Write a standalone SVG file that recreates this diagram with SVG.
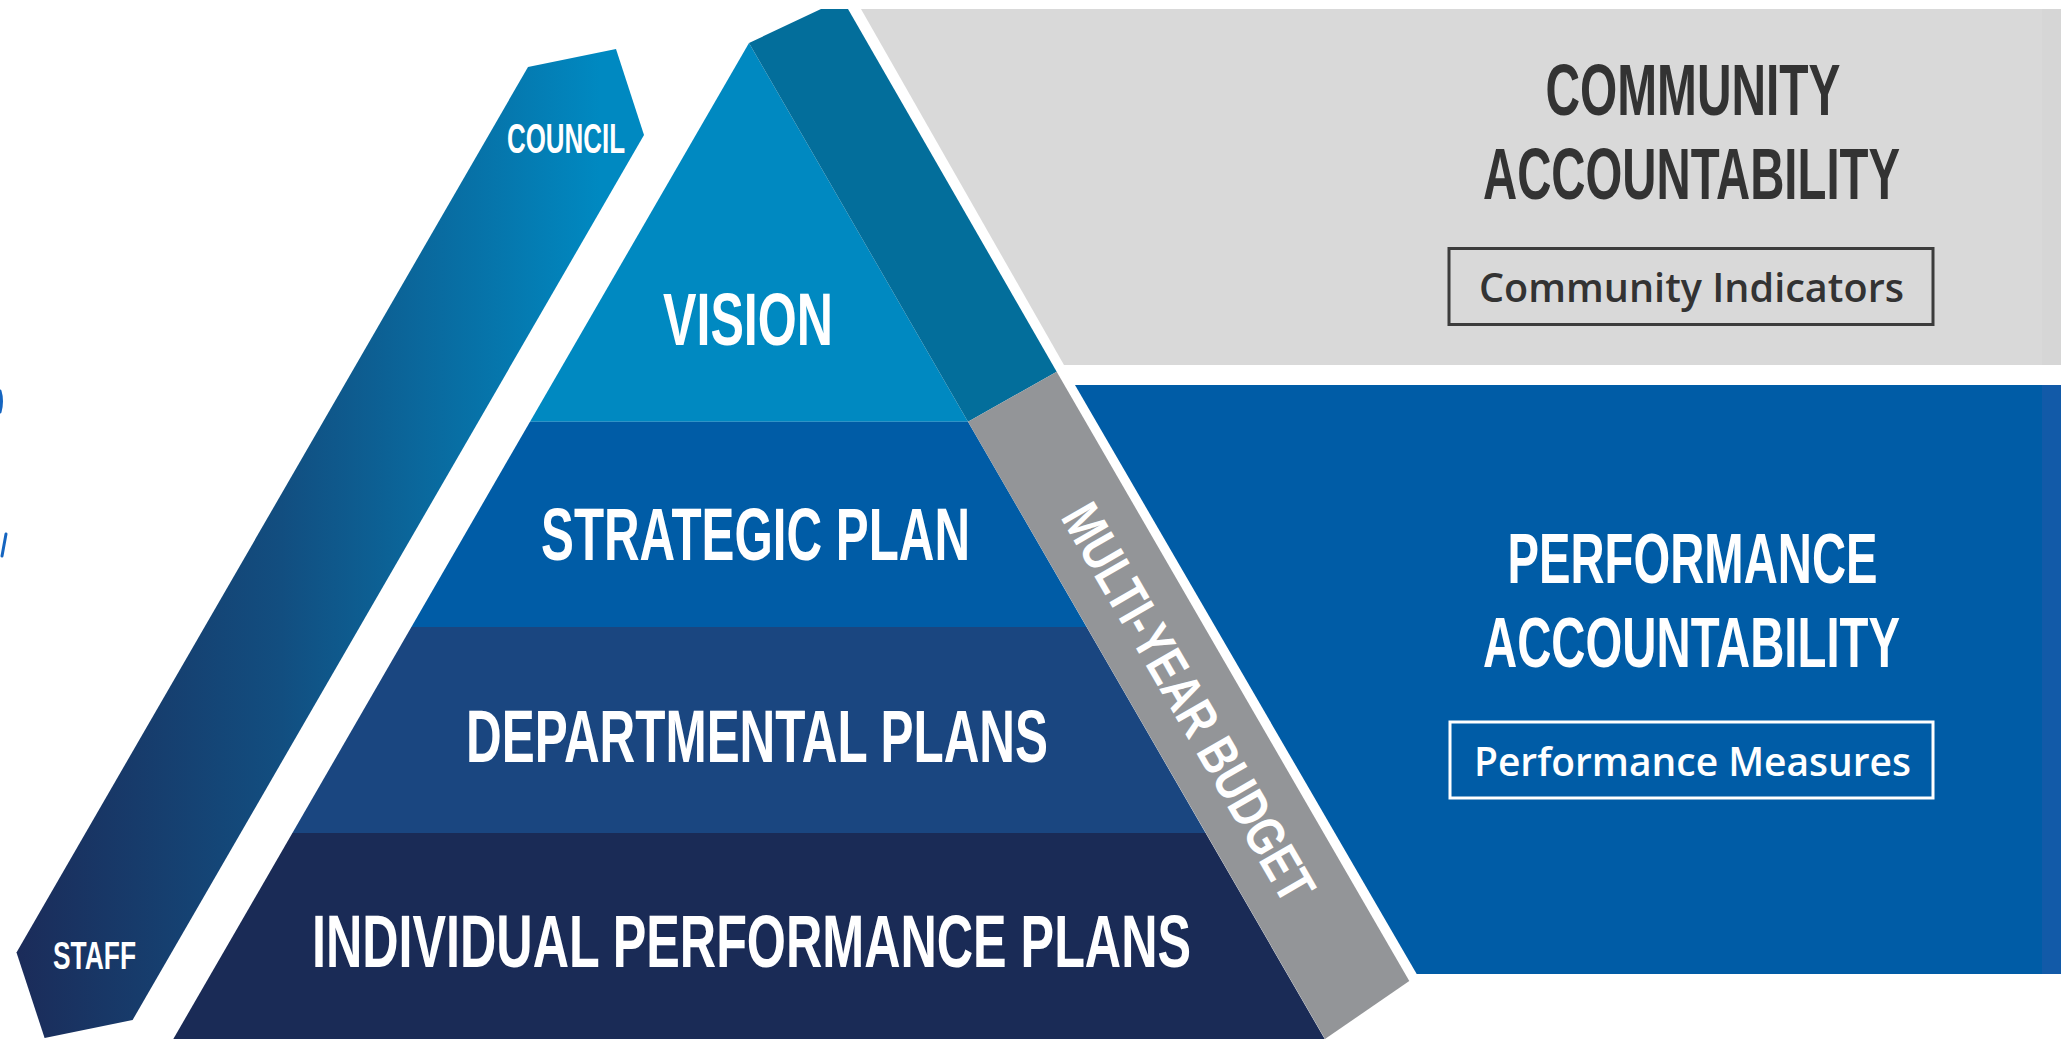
<svg xmlns="http://www.w3.org/2000/svg" width="2061" height="1039" viewBox="0 0 2061 1039">
  <defs>
    <linearGradient id="bandGrad" gradientUnits="userSpaceOnUse" x1="20" y1="0" x2="600" y2="0">
      <stop offset="0" stop-color="#1B2C5A"/>
      <stop offset="0.45" stop-color="#124E80"/>
      <stop offset="1" stop-color="#0089C1"/>
    </linearGradient>
    <style>
      .hd { font-family: "Liberation Sans Narrow", "Liberation Sans", Arial, sans-serif; font-weight: bold; }
      .sub { font-family: "Open Sans", "Noto Sans", "Liberation Sans", sans-serif; font-weight: 600; }
      .w { fill: #FFFFFF; }
      .dk { fill: #333333; }
    </style>
  </defs>
  <rect x="0" y="0" width="2061" height="1039" fill="#FFFFFF"/>

  <!-- edge fragments -->
  <g id="fragments" fill="none" stroke="#1565C0" stroke-width="3" stroke-linecap="round">
    <path d="M0,391 Q3,401 0,412"/>
    <path d="M6,534 L2,556"/>
  </g>

  <!-- Council / Staff band -->
  <g id="council-staff">
    <polygon points="528,67 616,49 644,135 132.6,1020 44.6,1038 16.5,952.5" fill="url(#bandGrad)"/>
    <text class="hd w" x="507" y="153" font-size="42" textLength="118" lengthAdjust="spacingAndGlyphs">COUNCIL</text>
    <text class="hd w" x="53" y="969" font-size="39" textLength="83" lengthAdjust="spacingAndGlyphs">STAFF</text>
  </g>

  <!-- Pyramid layers -->
  <g id="vision">
    <polygon points="749,43 968,421.7 530,421.7" fill="#0089C1"/>
    <text class="hd w" x="663" y="345" font-size="74" textLength="170" lengthAdjust="spacingAndGlyphs">VISION</text>
  </g>
  <g id="strategic-plan">
    <polygon points="530,421.7 968,421.7 1086.6,627 411.4,627" fill="#005CA6"/>
    <text class="hd w" x="541" y="560" font-size="74" textLength="429" lengthAdjust="spacingAndGlyphs">STRATEGIC PLAN</text>
  </g>
  <g id="departmental-plans">
    <polygon points="411.4,627 1086.6,627 1205.6,833 292.4,833" fill="#1A4680"/>
    <text class="hd w" x="466" y="762" font-size="74" textLength="582" lengthAdjust="spacingAndGlyphs">DEPARTMENTAL PLANS</text>
  </g>
  <g id="individual-plans">
    <polygon points="292.4,833 1205.6,833 1324.7,1039 173.3,1039" fill="#1A2B56"/>
    <text class="hd w" x="312" y="967" font-size="74" textLength="879" lengthAdjust="spacingAndGlyphs">INDIVIDUAL PERFORMANCE PLANS</text>
  </g>

  <!-- Teal top band -->
  <g id="teal-band">
    <polygon points="749,43 821,9 848,9 1056.7,371.7 968,421.7" fill="#036E9B"/>
  </g>

  <!-- Multi-year budget band -->
  <g id="multi-year-budget">
    <polygon points="968,421.7 1056.7,371.7 1409.3,981 1325,1039" fill="#939598"/>
    <text class="hd w" transform="translate(1189.4,702) rotate(60)" x="0" y="19.5" font-size="54" text-anchor="middle" textLength="450" lengthAdjust="spacingAndGlyphs">MULTI-YEAR BUDGET</text>
  </g>

  <!-- Community accountability panel -->
  <g id="community-accountability">
    <polygon points="861,9 2042,9 2042,365 1064,365" fill="#D9D9D9"/>
    <rect x="2042" y="9" width="19" height="356" fill="#D6D6D6"/>
    <text class="hd dk" x="1545.5" y="115" font-size="72.6" textLength="295" lengthAdjust="spacingAndGlyphs">COMMUNITY</text>
    <text class="hd dk" transform="translate(1483,199) scale(1,1.24)" x="0" y="0" font-size="58" textLength="417" lengthAdjust="spacingAndGlyphs">ACCOUNTABILITY</text>
  </g>
  <g id="community-indicators">
    <rect x="1449" y="248.5" width="484" height="76" fill="none" stroke="#3C3C3C" stroke-width="3"/>
    <text class="sub dk" x="1479" y="301.7" font-size="40" textLength="425" lengthAdjust="spacingAndGlyphs">Community Indicators</text>
  </g>

  <!-- Performance accountability panel -->
  <g id="performance-accountability">
    <polygon points="1075,385 2042,385 2042,974 1416.7,974" fill="#005CA6"/>
    <rect x="2042" y="385" width="19" height="589" fill="#125AA8"/>
    <text class="hd w" transform="translate(1507.5,583) scale(1,1.11)" x="0" y="0" font-size="64" textLength="370" lengthAdjust="spacingAndGlyphs">PERFORMANCE</text>
    <text class="hd w" transform="translate(1483,667.4) scale(1,1.22)" x="0" y="0" font-size="58" textLength="417" lengthAdjust="spacingAndGlyphs">ACCOUNTABILITY</text>
  </g>
  <g id="performance-measures">
    <rect x="1450" y="722" width="483" height="76" fill="none" stroke="#FFFFFF" stroke-width="3"/>
    <text class="sub w" x="1474" y="775.5" font-size="40" textLength="437" lengthAdjust="spacingAndGlyphs">Performance Measures</text>
  </g>

  <g id="connectors"/>
</svg>
